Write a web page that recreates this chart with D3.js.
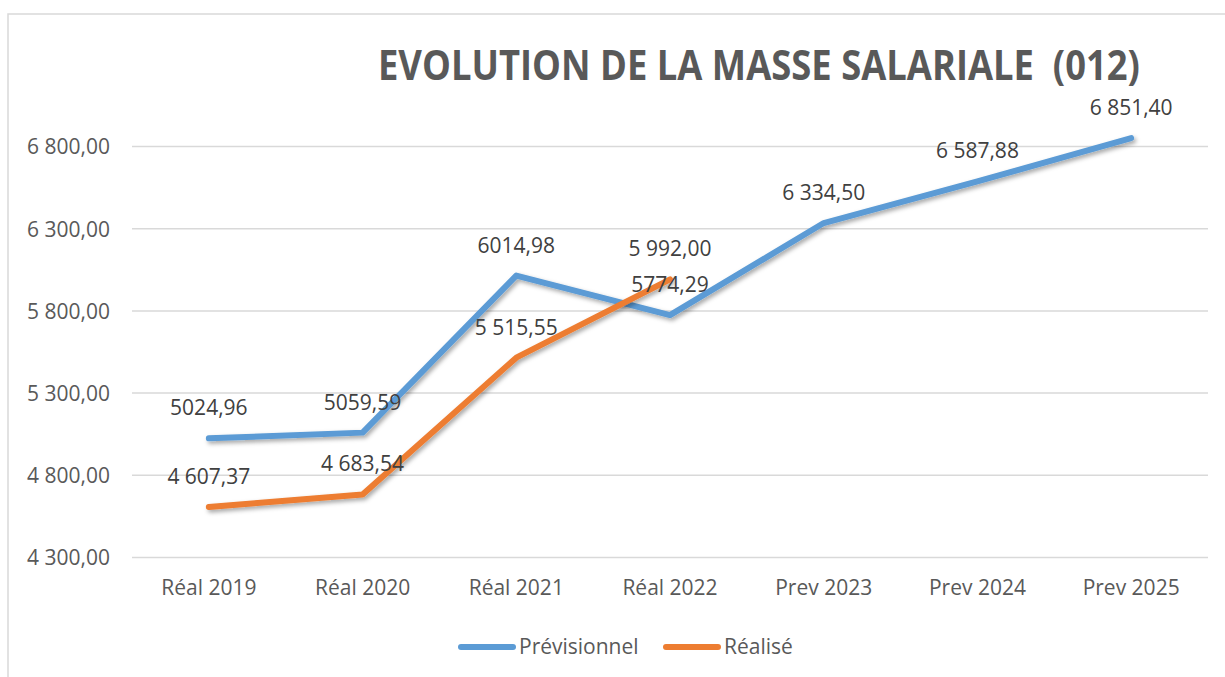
<!DOCTYPE html>
<html><head><meta charset="utf-8">
<script src="https://cdn.jsdelivr.net/npm/d3@7"></script>
<style>body{margin:0;background:#fff;}svg{display:block;}text{font-family:"Open Sans",sans-serif;}</style>
</head><body>
<script>
const categories = ["Réal 2019","Réal 2020","Réal 2021","Réal 2022","Prev 2023","Prev 2024","Prev 2025"];
const previsionnel = [5024.96, 5059.59, 6014.98, 5774.29, 6334.50, 6587.88, 6851.40];
const previsionnelLabels = ["5024,96","5059,59","6014,98","5774,29","6 334,50","6 587,88","6 851,40"];
const realise = [4607.37, 4683.54, 5515.55, 5992.00];
const realiseLabels = ["4 607,37","4 683,54","5 515,55","5 992,00"];
const yTicks = [4300, 4800, 5300, 5800, 6300, 6800];
const yTickLabels = ["4 300,00","4 800,00","5 300,00","5 800,00","6 300,00","6 800,00"];
const titleText = "EVOLUTION DE LA MASSE SALARIALE  (012)";
const seriesNames = ["Prévisionnel","Réalisé"];
const colors = ["#5B9BD5","#ED7D31"];

const W = 1225, H = 677;
const svg = d3.select("body").append("svg").attr("width", W).attr("height", H);

const defs = svg.append("defs");
const f = defs.append("filter").attr("id","shadow").attr("x","-10%").attr("y","-10%").attr("width","130%").attr("height","130%");
f.append("feDropShadow").attr("dx",2).attr("dy",2.5).attr("stdDeviation",2).attr("flood-color","#000").attr("flood-opacity",0.35);

// frame
svg.append("rect").attr("x",8).attr("y",14).attr("width",1260).attr("height",700)
  .attr("fill","none").attr("stroke","#d9d9d9").attr("stroke-width",1.5);

const x = d3.scaleBand().domain(categories).range([132, 1208]);
const y = d3.scaleLinear().domain([4300, 7300]).range([557.5, 64.3]);

// gridlines
svg.append("g").selectAll("line").data(yTicks).join("line")
  .attr("x1",132).attr("x2",1208)
  .attr("y1",d=>y(d)).attr("y2",d=>y(d))
  .attr("stroke","#d9d9d9").attr("stroke-width",1.5);

// y axis labels
const yAxis = d3.axisLeft(y).tickValues(yTicks).tickSize(0).tickPadding(0)
  .tickFormat((d,i)=>yTickLabels[i]);
const gy = svg.append("g").attr("transform","translate(110,0)").call(yAxis);
gy.select(".domain").remove();
gy.selectAll("text").attr("font-size",21).attr("fill","#595959").attr("font-family","Open Sans").attr("dy","0.35em");

// x axis labels
const xAxis = d3.axisBottom(x).tickSize(0).tickPadding(0);
const gx = svg.append("g").attr("transform","translate(0,580)").call(xAxis);
gx.select(".domain").remove();
gx.selectAll("text").attr("font-size",21).attr("fill","#595959").attr("font-family","Open Sans").attr("dy","0.71em");

const cx = d => x(d) + x.bandwidth()/2;
const line = d3.line().x(d=>cx(d[0])).y(d=>y(d[1]));

const prevData = categories.map((c,i)=>[c, previsionnel[i]]);
const realData = realise.map((v,i)=>[categories[i], v]);

svg.append("path").datum(prevData).attr("d",line).attr("fill","none")
  .attr("stroke",colors[0]).attr("stroke-width",6).attr("stroke-linecap","round").attr("stroke-linejoin","round")
  .attr("filter","url(#shadow)");
svg.append("path").datum(realData).attr("d",line).attr("fill","none")
  .attr("stroke",colors[1]).attr("stroke-width",6).attr("stroke-linecap","round").attr("stroke-linejoin","round")
  .attr("filter","url(#shadow)");

// data labels
svg.append("g").selectAll("text").data(prevData).join("text")
  .attr("x",d=>cx(d[0])).attr("y",d=>y(d[1]) - 23)
  .attr("text-anchor","middle").attr("font-size",21).attr("fill","#404040")
  .text((d,i)=>previsionnelLabels[i]);
svg.append("g").selectAll("text").data(realData).join("text")
  .attr("x",d=>cx(d[0])).attr("y",d=>y(d[1]) - 23)
  .attr("text-anchor","middle").attr("font-size",21).attr("fill","#404040")
  .text((d,i)=>realiseLabels[i]);

// title (horizontally condensed to match reference width)
const tg = svg.append("g");
const tt = tg.append("text").attr("x",0).attr("y",0)
  .attr("font-size",41).attr("font-weight","bold").attr("fill","#595959")
  .style("white-space","pre")
  .text(titleText);
const natural = tt.node().getComputedTextLength();
const sx = 762 / natural;
tg.attr("transform",`translate(378,80) scale(${sx},1)`);

// legend
const legX = [458, 663];
const lg = svg.append("g");
seriesNames.forEach((n,i)=>{
  lg.append("line").attr("x1",legX[i]+3).attr("x2",legX[i]+55).attr("y1",647).attr("y2",647)
    .attr("stroke",colors[i]).attr("stroke-width",6).attr("stroke-linecap","round");
  lg.append("text").attr("x",legX[i]+61).attr("y",647).attr("dy","0.35em")
    .attr("font-size",21).attr("fill","#595959").text(n);
});
</script>
</body></html>
